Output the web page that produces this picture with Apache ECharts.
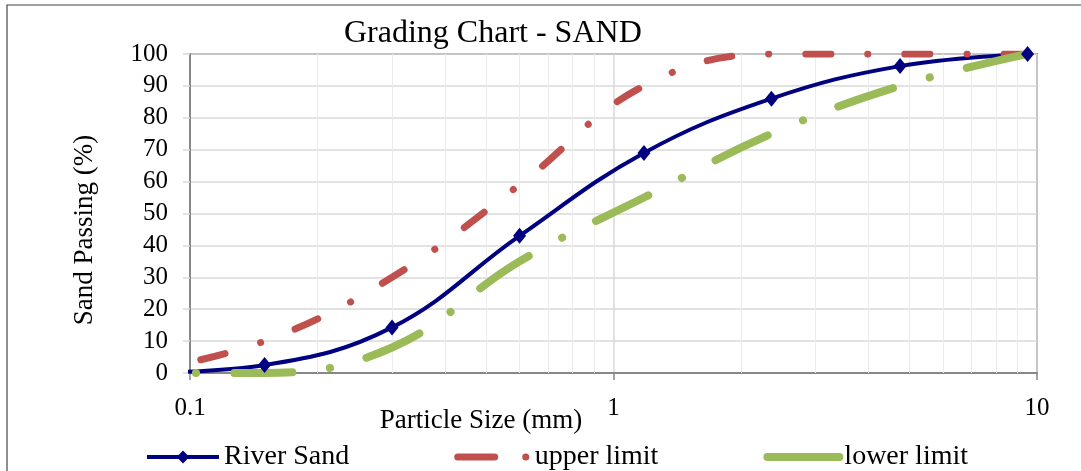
<!DOCTYPE html>
<html>
<head>
<meta charset="utf-8">
<script src="https://cdn.jsdelivr.net/npm/echarts@6/dist/echarts.min.js"></script>
<style>
  html, body { margin: 0; padding: 0; background: #fff; }
  #chart { width: 1081px; height: 471px; }
</style>
</head>
<body>
<div id="chart"></div>
<script>
// sieve sizes (mm) — 0.075 point sits left of the axis and gets clipped
const sieveSizes = [0.075, 0.15, 0.3, 0.6, 1.18, 2.36, 4.75, 9.5];
const riverSand  = [0, 2.5, 14.3, 43, 69, 86, 96.2, 100];
const upperLimit = [0, 10, 30, 59, 90, 100, 100, 100];
const lowerLimit = [0, 0, 8, 35, 55, 75, 90, 100];
const xTicks = [0.1, 1, 10];
const minorGridX = [0.2, 0.3, 0.4, 0.5, 0.6, 0.7, 0.8, 0.9, 2, 3, 4, 5, 6, 7, 8, 9];

const FONT = 'Liberation Serif';
const axisGray = '#878787';

const toPairs = (vals) => sieveSizes.map((s, i) => [s, vals[i]]);

const chart = echarts.init(document.getElementById('chart'));

const option = {
  animation: false,
  backgroundColor: '#fff',
  title: {
    text: 'Grading Chart - SAND',
    left: 344,
    top: 18,
    padding: 0,
    textStyle: { fontFamily: FONT, fontSize: 32, fontWeight: 'normal', color: '#000' }
  },
  grid: { left: 190, right: 44, top: 54, bottom: 98, show: true, borderColor: axisGray, borderWidth: 2 },
  legend: {
    left: 145,
    top: 443,
    padding: 0,
    itemWidth: 72,
    itemHeight: 16,
    itemGap: 105,
    textStyle: { fontFamily: FONT, fontSize: 28, color: '#000' },
    data: [
      { name: 'River Sand', lineStyle: { width: 4, type: 'solid' } },
      { name: 'upper limit', itemStyle: { opacity: 0 }, lineStyle: { width: 7, type: [37, 31, 0.1, 40], dashOffset: 0, cap: 'round' } },
      { name: 'lower limit', itemStyle: { opacity: 0 }, lineStyle: { width: 8, type: 'solid', dashOffset: 0, cap: 'round' } }
    ]
  },
  xAxis: {
    type: 'log',
    logBase: 10,
    min: 0.1,
    max: 10,
    axisLine: { show: true, onZero: false, lineStyle: { color: axisGray, width: 2 } },
    axisTick: { show: true, length: 7, lineStyle: { color: axisGray, width: 1.5 } },
    axisLabel: {
      margin: 23, color: '#000', fontFamily: FONT, fontSize: 25,
      formatter: (v) => String(xTicks.find(t => Math.abs(t - v) < 1e-9) ?? v)
    },
    splitLine: { show: true, lineStyle: { color: '#d9d9d9', width: 1.5 } }
  },
  yAxis: {
    type: 'value',
    min: 0,
    max: 100,
    interval: 10,
    axisLine: { show: true, lineStyle: { color: axisGray, width: 2 } },
    axisTick: { show: true, length: 7, lineStyle: { color: '#d9d9d9', width: 1.5 } },
    axisLabel: { margin: 22, color: '#000', fontFamily: FONT, fontSize: 25 },
    splitLine: { show: true, lineStyle: { color: '#d9d9d9', width: 1.5 } }
  },
  graphic: [
    {
      type: 'rect', silent: true, z: -1,
      shape: { x: 7, y: 5, width: 1100, height: 500 },
      style: { fill: 'none', stroke: '#444', lineWidth: 1.2 }
    },
    {
      type: 'text', x: 85, y: 230, rotation: Math.PI / 2,
      style: { text: 'Sand Passing (%)', fontFamily: FONT, fontSize: 27, fill: '#000', align: 'center', verticalAlign: 'middle' }
    },
    {
      type: 'text', x: 481, y: 421,
      style: { text: 'Particle Size (mm)', fontFamily: FONT, fontSize: 27, fill: '#000', align: 'center', verticalAlign: 'middle' }
    }
  ],
  series: [
    {
      name: 'River Sand',
      type: 'line',
      smooth: 0.4,
      clip: true,
      data: toPairs(riverSand),
      symbol: 'diamond',
      symbolSize: [13, 16],
      itemStyle: { color: '#000080' },
      lineStyle: { color: '#000080', width: 4 },
      markLine: {
        silent: true,
        z: 1,
        symbol: 'none',
        label: { show: false },
        lineStyle: { color: '#ebebeb', width: 1, type: 'solid' },
        data: minorGridX.map(v => ({ xAxis: v }))
      }
    },
    {
      name: 'upper limit',
      type: 'line',
      smooth: 0.4,
      clip: true,
      data: toPairs(upperLimit),
      showSymbol: false,
      symbol: 'none',
      itemStyle: { color: '#c0504d' },
      lineStyle: { color: '#c0504d', width: 7, type: [25, 37, 0.1, 37], dashOffset: 34, cap: 'round' }
    },
    {
      name: 'lower limit',
      type: 'line',
      smooth: 0.4,
      clip: true,
      data: toPairs(lowerLimit),
      showSymbol: false,
      symbol: 'none',
      itemStyle: { color: '#9bbb59' },
      lineStyle: { color: '#9bbb59', width: 8, type: [58, 38, 0.1, 38], dashOffset: 37, cap: 'round' }
    }
  ]
};

chart.setOption(option);
</script>
</body>
</html>
